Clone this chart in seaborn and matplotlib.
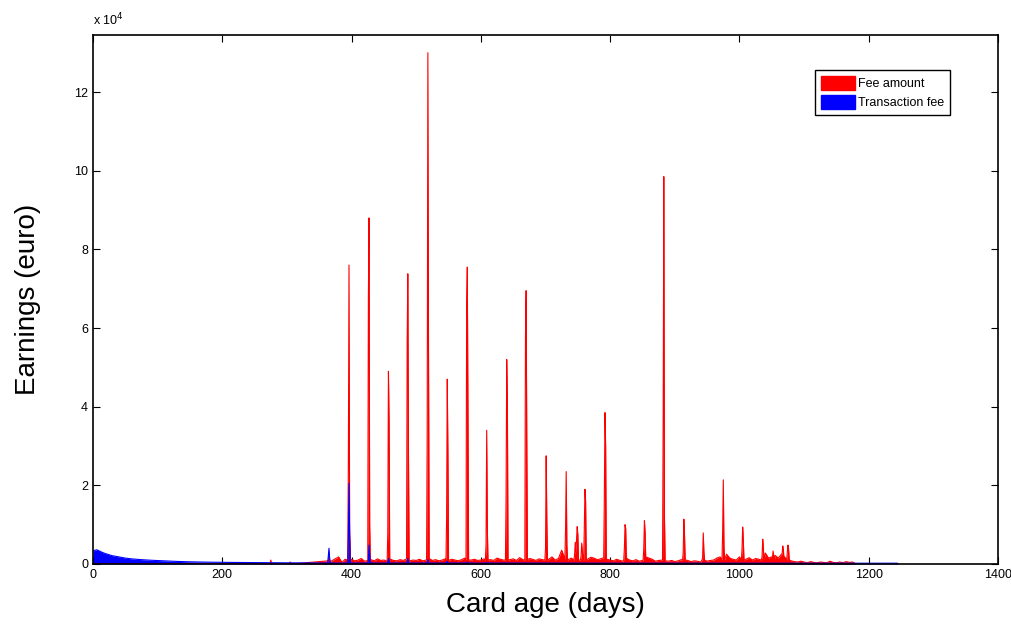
import numpy as np
import pandas as pd
import seaborn as sns
import matplotlib.pyplot as plt
from matplotlib.patches import Patch
from matplotlib.ticker import FuncFormatter

# fee amount: baseline, one value every 5 days from day 380 to 1180
fee_base_days = list(range(380, 1185, 5))
fee_base_vals = [1800, 400, 1200, 900,
                 1200, 800, 1000, 1400, 700, 900, 1100, 800, 1300, 900, 1000, 700, 1200, 900, 800, 1100, 900, 1300, 800, 1000,
                 900, 1200, 800, 1000, 1400, 900, 1100, 800, 1000, 1300, 900, 1200, 1000, 800, 1100, 1500, 900, 1000, 1200, 900,
                 1000, 1300, 1800, 1100, 900, 1500, 1200, 1000, 1400, 1100, 1300, 900, 1600, 1100, 1000, 1400, 1200, 900, 1300, 1100,
                 1500, 1200, 1800, 1000, 1400, 3500, 1300, 1100, 1500, 1200, 1800, 1400, 1600, 1200, 1700, 1500, 1100, 1300, 1600, 1200,
                 1000, 800, 1200, 900, 700, 1500, 1000, 800, 1100, 700, 900, 1800, 1500, 1200, 700, 900, 1000, 800, 700, 900,
                 600, 800, 1100, 700, 900, 600, 800, 700, 500, 800, 700, 900, 1000, 1500, 1800, 1200, 2500, 1500, 1200, 1000,
                 1800, 1500, 1200, 1600, 1000, 1400, 1200, 2000, 2800, 1500, 1800, 2200, 1500, 2500, 1800, 1200, 800, 600, 500, 700,
                 500, 300, 600, 400, 300, 500, 400, 300, 700, 400, 300, 500, 300, 600, 400, 500, 0]
fee_foot = 1000

# fee amount spikes: day, peak, value the day before, value the day after
fee_spike_days = [275, 305, 365, 396, 427, 457, 487, 518, 548, 579, 609, 640, 670, 701, 732, 746, 749, 756, 761,
                  792, 823, 853, 883, 914, 944, 975, 1005, 1036, 1052, 1067, 1075]
fee_spike_peak = [1000, 500, 2000, 76000, 88000, 49000, 73800, 130000, 47000, 75500, 34000, 52000, 69500, 27500, 23500,
                  5500, 9500, 5300, 19000, 38500, 10000, 11000, 98500, 11400, 7900, 21400, 9400, 6300, 3300, 4600, 4800]
fee_spike_left = [0, 0, 800, 24500, 68000, 8000, 57000, 35000, 12000, 66000, 5000, 17500, 58000, 4000, 9000,
                  2500, 6000, 2000, 9000, 17000, 4000, 4000, 37000, 3000, 1500, 8000, 4000, 2000, 1500, 2500, 3000]
fee_spike_right = [0, 0, 600, 8000, 10000, 36000, 28000, 54000, 28000, 39000, 9000, 41000, 32000, 11000, 5000,
                   3000, 7400, 3000, 16000, 30000, 9000, 8000, 12000, 7500, 3000, 4500, 6000, 4000, 2000, 3500, 3800]

# transaction fee: early decay, then a low floor up to day 1244
tx_base_days = [0, 3, 6, 10, 15, 20, 30, 40, 50, 60, 75, 90, 110, 130, 150, 175, 200, 250, 300, 350, 380,
                450, 600, 800, 1000, 1244, 1246]
tx_base_vals = [3300, 3500, 3600, 3300, 2900, 2600, 2100, 1800, 1500, 1300, 1100, 950, 800, 650, 550, 470, 420, 350, 300, 260, 240,
                230, 220, 210, 200, 200, 0]
tx_foot = 250

tx_spike_days = [365, 396, 427, 457, 487, 518, 548, 579, 609]
tx_spike_peak = [4000, 20500, 4800, 1400, 1400, 1100, 700, 500, 400]
tx_spike_left = [2000, 6600, 1000, 600, 500, 400, 300, 300, 250]
tx_spike_right = [1500, 7000, 2000, 500, 500, 400, 300, 250, 250]


def build(base_days, base_vals, foot, sp_days, sp_peak, sp_left, sp_right):
    pts = dict(zip(base_days, base_vals))
    for d, p, l, r in zip(sp_days, sp_peak, sp_left, sp_right):
        pts.setdefault(d - 2, min(foot, l))
        pts.setdefault(d + 2, min(foot, r))
    for d, p, l, r in zip(sp_days, sp_peak, sp_left, sp_right):
        pts[d - 1] = l
        pts[d] = p
        pts[d + 1] = r
    s = pd.Series(pts).sort_index()
    return s.index.values, s.values


fee_x, fee_y = build(fee_base_days, fee_base_vals, fee_foot, fee_spike_days, fee_spike_peak, fee_spike_left, fee_spike_right)
fee_x = np.concatenate([[0, 270], fee_x])
fee_y = np.concatenate([[0, 0], fee_y])
tx_x, tx_y = build(tx_base_days, tx_base_vals, tx_foot, tx_spike_days, tx_spike_peak, tx_spike_left, tx_spike_right)

sns.set_style("ticks")
plt.rcParams['font.family'] = ['Liberation Sans Narrow', 'Liberation Sans', 'DejaVu Sans']
plt.rcParams['text.color'] = 'black'
plt.rcParams['axes.labelcolor'] = 'black'

fig = plt.figure(figsize=(10.12, 6.31), dpi=100)
ax = fig.add_axes([0.0919, 0.1062, 0.8943, 0.8383])

ax.fill_between(fee_x, fee_y, color='#ff0000', linewidth=0)
sns.lineplot(x=fee_x, y=fee_y, color='#ff0000', linewidth=0.8, sort=False, estimator=None, ax=ax)
ax.fill_between(tx_x, tx_y, color='#0000ff', linewidth=0)
sns.lineplot(x=tx_x, y=tx_y, color='#0000ff', linewidth=0.8, sort=False, estimator=None, ax=ax)

ax.set_xlim(0, 1400)
ax.set_ylim(0, 134500)
ax.set_xticks([0, 200, 400, 600, 800, 1000, 1200, 1400])
ax.set_yticks([0, 20000, 40000, 60000, 80000, 100000, 120000])
ax.yaxis.set_major_formatter(FuncFormatter(lambda v, p: f"{v / 1e4:g}"))
ax.tick_params(direction='in', top=True, right=True, length=5, width=0.8, labelsize=9, colors='black')
for sp in ax.spines.values():
    sp.set_visible(True)
    sp.set_linewidth(1.2)
    sp.set_color('black')

ax.text(0, 1.012, "x 10$^{4}$", transform=ax.transAxes, fontsize=9, ha='left', va='bottom')

ax.set_xlabel("Card age (days)", fontsize=20, family=['Liberation Sans'], labelpad=8)
ax.set_ylabel("Earnings (euro)", fontsize=20, family=['Liberation Sans'], labelpad=24)

handles = [Patch(facecolor='#ff0000', edgecolor='#ff0000'), Patch(facecolor='#0000ff', edgecolor='#0000ff')]
leg = ax.legend(handles, ["Fee amount", "Transaction fee"], loc='upper left', bbox_to_anchor=(0.798, 0.934),
                fontsize=9, fancybox=False, framealpha=1, edgecolor='black', handlelength=2.7, handleheight=1.35,
                borderpad=0.45, labelspacing=0.4, handletextpad=0.3, borderaxespad=0)
leg.get_frame().set_linewidth(1.0)

fig.savefig("out.png", dpi=100)
